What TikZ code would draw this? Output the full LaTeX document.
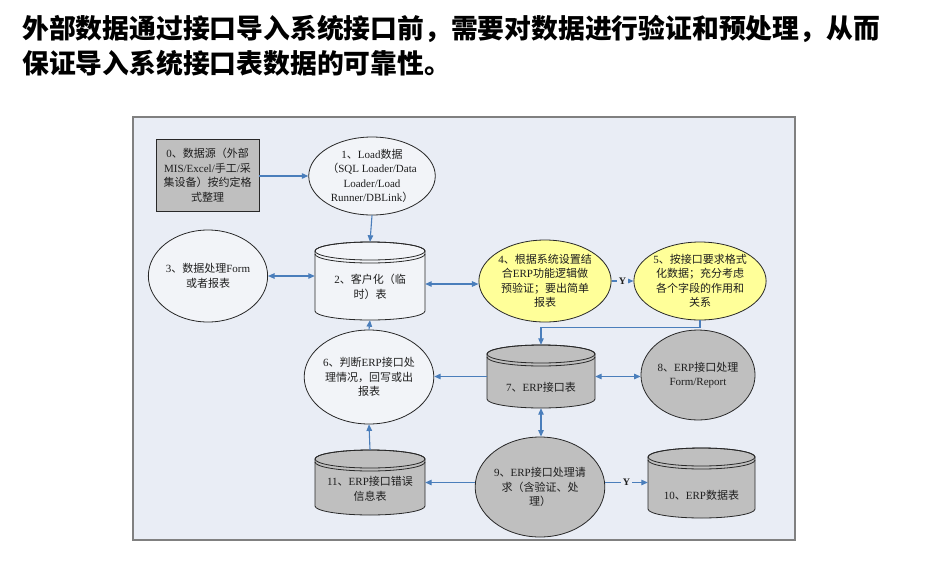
\documentclass[tikz,border=0pt]{standalone}
\usepackage{fontspec}
\setmainfont{Noto Sans CJK SC}
\newfontfamily\enf{Liberation Serif}
\usetikzlibrary{arrows.meta,shapes.geometric}
\newcommand\en[1]{{\enf #1}}
\definecolor{framebg}{RGB}{233,237,245}
\definecolor{frameline}{RGB}{128,128,128}
\definecolor{flowblue}{RGB}{74,126,187}
\definecolor{shapegray}{RGB}{191,191,191}
\definecolor{shapewhite}{RGB}{242,244,248}
\definecolor{shapeyellow}{RGB}{255,255,153}
\definecolor{outline}{RGB}{40,40,40}
\definecolor{txt}{RGB}{30,30,30}
\tikzset{
  flow/.style={draw=flowblue, line width=1.1pt, -{Triangle[length=6.5pt,width=5.5pt]}},
  biflow/.style={draw=flowblue, line width=1.1pt, {Triangle[length=6.5pt,width=5.5pt]}-{Triangle[length=6.5pt,width=5.5pt]}},
  ovalnode/.style={ellipse, draw=outline, line width=0.8pt, inner sep=0pt, align=center, text=txt,
    font=\fontsize{11}{14.5}\selectfont},
  boxnode/.style={rectangle, draw=outline, line width=0.9pt, fill=shapegray, inner sep=0pt, align=center, text=txt,
    font=\fontsize{11}{14.5}\selectfont},
  cylline/.style={draw=outline, line width=0.8pt},
  cyltext/.style={align=center, text=txt, inner sep=0pt, font=\fontsize{11}{14.5}\selectfont},
  ylabel/.style={fill=framebg, inner sep=1.5pt, text=txt, font=\enf\bfseries\fontsize{10}{12}\selectfont},
}
% name, cx, cy, w, h, fill, text-y, text
\newcommand\dbcyl[8]{%
  \pgfmathsetmacro\cylxl{#2-#4/2}\pgfmathsetmacro\cylxr{#2+#4/2}%
  \pgfmathsetmacro\cylyt{#3-#5/2}\pgfmathsetmacro\cylyb{#3+#5/2}%
  \pgfmathsetmacro\cylrx{#4/2}%
  \filldraw[cylline, fill=#6] (\cylxl,{\cylyt+9}) -- (\cylxl,{\cylyb-9})
     arc[start angle=180,end angle=0,x radius=\cylrx,y radius=9] -- (\cylxr,{\cylyt+9})
     arc[start angle=0,end angle=-180,x radius=\cylrx,y radius=9] -- cycle;
  \draw[cylline] (#2,{\cylyt+9}) ellipse[x radius=\cylrx, y radius=9];
  \draw[cylline] (\cylxl,{\cylyt+12}) arc[start angle=180,end angle=0,x radius=\cylrx,y radius=9];
  \node[inner sep=0pt, minimum width=#4*1pt, minimum height=#5*1pt] (#1) at (#2,#3) {};
  \node[cyltext] (#1text) at (#2,#7) {#8};
}
\begin{document}
\begin{tikzpicture}[x=1pt,y=-1pt]
\useasboundingbox (0,0) rectangle (941,576);
% title
\node[anchor=west, inner sep=0pt, font=\fontsize{26.8}{30}\bfseries\selectfont] (title1) at (22,29) {外部数据通过接口导入系统接口前，需要对数据进行验证和预处理，从而};
\node[anchor=west, inner sep=0pt, font=\fontsize{26.8}{30}\bfseries\selectfont] (title2) at (22,63) {保证导入系统接口表数据的可靠性。};
% frame
\draw[draw=frameline, line width=1.6pt, fill=framebg] (133,117) rectangle (795,540);
\draw[draw=frameline, line width=2.4pt] (133,117) -- (795,117);
% nodes
\node[boxnode, minimum width=103pt, minimum height=72pt] (n0) at (207.5,175)
  {\en{0}、数据源（外部\\\en{MIS/Excel/}手工\en{/}采\\集设备）按约定格\\式整理};
\node[ovalnode, fill=shapewhite, minimum width=100pt, minimum height=78pt] (e1) at (372,176)
  {\en{1}、\en{Load}数据\\（\en{SQL Loader/Data}\\\en{Loader/Load}\\\en{Runner/DBLink}）};
\dbcyl{c2}{370}{281}{110}{78}{shapewhite}{287}{\en{2}、客户化（临\\时）表}
\node[ovalnode, fill=shapewhite, minimum width=108pt, minimum height=92pt] (e3) at (208,276)
  {\en{3}、数据处理\en{Form}\\或者报表};
\node[ovalnode, fill=shapeyellow, minimum width=104pt, minimum height=82pt] (e4) at (545,281)
  {\en{4}、根据系统设置结\\合\en{ERP}功能逻辑做\\预验证；要出简单\\报表};
\node[ovalnode, fill=shapeyellow, minimum width=104pt, minimum height=78pt] (e5) at (700,281)
  {\en{5}、按接口要求格式\\化数据；充分考虑\\各个字段的作用和\\关系};
\dbcyl{c7}{541}{376.5}{108}{63}{shapegray}{387}{\en{7}、\en{ERP}接口表}
\node[ovalnode, fill=shapegray, minimum width=100pt, minimum height=90pt] (e8) at (698,375)
  {\en{8}、\en{ERP}接口处理\\\en{Form/Report}};
\node[ovalnode, fill=shapewhite, minimum width=108pt, minimum height=94pt] (e6) at (369,377)
  {\en{6}、判断\en{ERP}接口处\\理情况，回写或出\\报表};
\dbcyl{c11}{370}{482.5}{110}{65}{shapegray}{489}{\en{11}、\en{ERP}接口错误\\信息表}
\node[ovalnode, fill=shapegray, minimum width=104pt, minimum height=100pt] (e9) at (540,487)
  {\en{9}、\en{ERP}接口处理请\\求（含验证、处\\理）};
\dbcyl{c10}{701.5}{483}{107}{70}{shapegray}{495}{\en{10}、\en{ERP}数据表}
% connectors
\draw[flow] (n0.east |- e1.west) -- (e1.west);
\draw[flow] (e1.south) -- (c2.north);
\draw[biflow] (e3.east) -- (e3.east -| c2.west);
\draw[biflow] ([yshift=-3pt]c2.east) -- ([yshift=-3pt]c2.east -| e4.west);
\draw[flow] (e4.east) -- node[ylabel] (y1) {Y} (e5.west);
\draw[flow] (e5.south) -- ++(0,7) -| (c7.north);
\draw[biflow] (c7.east) -- (c7.east -| e8.west);
\draw[flow] (c7.west) -- (c7.west -| e6.east);
\draw[flow] (e6.north) -- (c2.south);
\draw[flow] (c11.north) -- (e6.south);
\draw[biflow] (c7.south) -- (c7.south |- e9.north);
\draw[flow] (e9.west |- c11.east) -- (c11.east);
\draw[flow] (e9.east |- c11.east) -- node[ylabel] (y2) {Y} (c10.west |- c11.east);
\end{tikzpicture}
\end{document}
